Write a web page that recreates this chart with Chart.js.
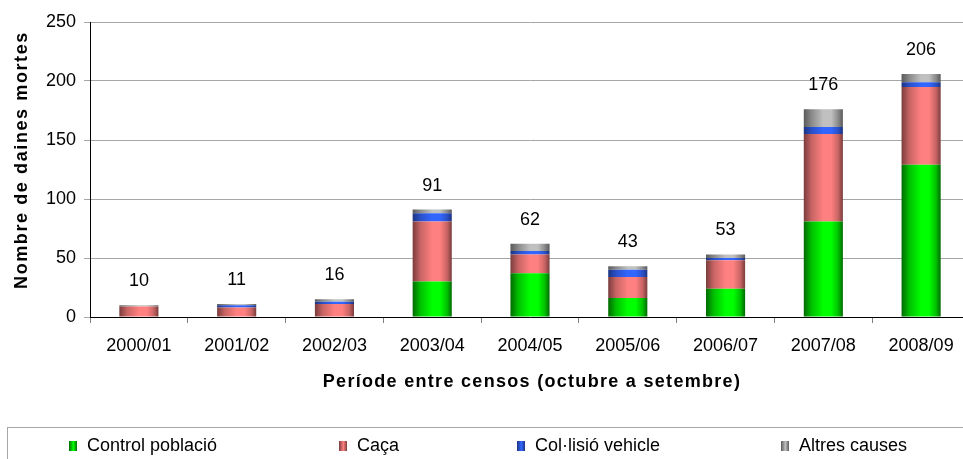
<!DOCTYPE html>
<html>
<head>
<meta charset="utf-8">
<script src="https://cdn.jsdelivr.net/npm/chart.js@4/dist/chart.umd.min.js"></script>
<style>
  html, body { margin: 0; padding: 0; background: #fff; overflow: hidden; width: 963px; height: 459px; }
  #wrap { position: absolute; left: 0; top: 0; width: 975px; height: 459px; }
  #legend { position: absolute; left: 7px; top: 427px; width: 1000px; height: 60px;
            border-top: 1px solid #a6a6a6; border-left: 1px solid #a6a6a6; }
  .item { position: absolute; top: 6px; font: 18px "Liberation Sans", Arial, sans-serif; color: #000;
          line-height: 22px; white-space: nowrap; }
  .sw { position: absolute; left: 0; top: 7px; width: 8px; height: 10px; }
  .item span.t { position: absolute; left: 18px; top: 0; }
</style>
</head>
<body>
<div id="wrap"><canvas id="c"></canvas></div>
<div id="legend"></div>
<script>
// ---- data
const categories = ['2000/01', '2001/02', '2002/03', '2003/04', '2004/05', '2005/06', '2006/07', '2007/08', '2008/09'];
const controlPoblacio = [0, 0, 0, 30, 37, 16, 24, 81, 129];
const caca = [9, 8, 11, 51, 16, 18, 24, 74, 66];
const colVehicle = [0, 2, 2, 7, 3, 6, 2, 6, 4];
const altresCauses = [1, 1, 2, 3, 6, 3, 3, 15, 7];
const totals = [10, 11, 16, 91, 62, 43, 53, 176, 206];
const seriesNames = ['Control població', 'Caça', 'Col·lisió vehicle', 'Altres causes'];
const yTicks = [0, 50, 100, 150, 200, 250];

const FONT = '"Liberation Sans", Arial, sans-serif';

// dark edge / bright centre, like the old Excel cylinder-ish fill
const SHADES = [
  { dark: '#006a00', mid: '#00c000', bright: '#00ff00' },
  { dark: '#7a3c3c', mid: '#c86464', bright: '#ff8080' },
  { dark: '#1c3480', mid: '#2a50c8', bright: '#3366ff' },
  { dark: '#5a5a5a', mid: '#8a8a8a', bright: '#c0c0c0' },
];

function barGradient(c, shade) {
  const chart = c.chart;
  const xs = chart.scales && chart.scales.x;
  if (!chart.chartArea || !xs || c.dataIndex == null) return shade.bright;
  const cx = xs.getPixelForValue(c.dataIndex);
  const half = (xs.width / categories.length) * 0.4 / 2;
  const g = chart.ctx.createLinearGradient(cx - half, 0, cx + half, 0);
  g.addColorStop(0, shade.dark);
  g.addColorStop(0.2, shade.mid);
  g.addColorStop(0.5, shade.bright);
  g.addColorStop(0.7, shade.bright);
  g.addColorStop(0.88, shade.mid);
  g.addColorStop(1, shade.dark);
  return g;
}

// totals above each stack
const totalsPlugin = {
  id: 'totals',
  afterDatasetsDraw(chart) {
    const ctx = chart.ctx, y = chart.scales.y, x = chart.scales.x;
    ctx.save();
    ctx.font = '18px ' + FONT;
    ctx.fillStyle = '#000';
    ctx.textAlign = 'center';
    ctx.textBaseline = 'middle';
    categories.forEach((_, i) => {
      const sum = chart.data.datasets.reduce((s, d) => s + (d.data[i] || 0), 0);
      ctx.fillText(String(totals[i]), x.getPixelForValue(i), y.getPixelForValue(sum) - 24);
    });
    ctx.restore();
  },
};

// axis titles (bold, slightly spaced out like the original)
const titlesPlugin = {
  id: 'axisTitles',
  afterDraw(chart) {
    const ctx = chart.ctx;
    ctx.save();
    ctx.fillStyle = '#000';
    ctx.font = 'bold 18px ' + FONT;
    ctx.textAlign = 'center';
    ctx.textBaseline = 'middle';
    ctx.letterSpacing = '1.3px';
    ctx.fillText('Període entre censos (octubre a setembre)', 532, 382);
    ctx.translate(22, 160);
    ctx.rotate(-Math.PI / 2);
    ctx.letterSpacing = '1.6px';
    ctx.fillText('Nombre de daines mortes', 0, 0);
    ctx.restore();
  },
};

const seriesData = [controlPoblacio, caca, colVehicle, altresCauses];

new Chart(document.getElementById('c'), {
  type: 'bar',
  data: {
    labels: categories,
    datasets: seriesData.map((d, k) => ({
      label: seriesNames[k],
      data: d,
      backgroundColor: (c) => barGradient(c, SHADES[k]),
      borderWidth: 0,
      barPercentage: 0.4,
      categoryPercentage: 1,
    })),
  },
  options: {
    responsive: true, maintainAspectRatio: false, animation: false,
    devicePixelRatio: 1,
    layout: { padding: { top: 22, right: 5, bottom: 82, left: 0 } },
    plugins: { legend: { display: false }, tooltip: { enabled: false } },
    scales: {
      x: {
        stacked: true,
        afterFit: (s) => { s.height = 60; },
        grid: { display: true, drawOnChartArea: false, offset: true, tickLength: 6, color: '#808080' },
        border: { display: true, color: '#000', width: 1 },
        ticks: { color: '#000', font: { family: FONT, size: 18 }, padding: 12, maxRotation: 0 },
      },
      y: {
        stacked: true, min: 0, max: 250,
        afterFit: (s) => { s.width = 90; },
        afterBuildTicks: (s) => { s.ticks = yTicks.map(v => ({ value: v })); },
        grid: { color: '#a6a6a6', tickLength: 6 },
        border: { display: true, color: '#000', width: 1 },
        ticks: { color: '#000', font: { family: FONT, size: 18 }, padding: 8 },
      },
    },
  },
  plugins: [totalsPlugin, titlesPlugin],
});

// HTML legend built from the same names / colours
const legendX = [68, 338, 516, 780];
const leg = document.getElementById('legend');
seriesNames.forEach((name, k) => {
  const it = document.createElement('div');
  it.className = 'item';
  it.style.left = (legendX[k] - 7) + 'px';
  const s = SHADES[k];
  it.innerHTML = '<div class="sw" style="background:linear-gradient(to right,' + s.dark + ',' + s.bright + ' 55%,' + s.dark + ')"></div><span class="t">' + name + '</span>';
  leg.appendChild(it);
});
</script>
</body>
</html>
